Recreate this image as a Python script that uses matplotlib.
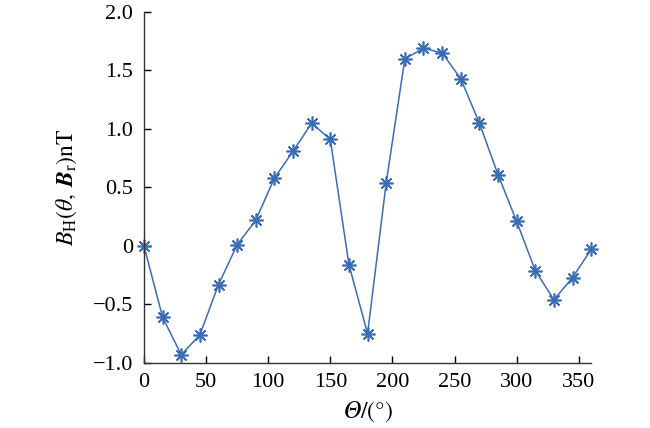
import numpy as np
import matplotlib.pyplot as plt

plt.rcParams['font.family'] = ['Liberation Serif', 'DejaVu Serif']
plt.rcParams['mathtext.fontset'] = 'stix'

# angle in degrees, field in nT
theta = [0, 15, 30, 45, 60, 75, 90, 105, 120, 135, 150, 165, 180,
         195, 210, 225, 240, 255, 270, 285, 300, 315, 330, 345, 360]
b_h = [0.0, -0.61, -0.93, -0.76, -0.33, 0.01, 0.22, 0.58, 0.81, 1.05, 0.91, -0.16, -0.75,
       0.54, 1.60, 1.69, 1.65, 1.43, 1.05, 0.61, 0.21, -0.21, -0.46, -0.27, -0.03]

x_ticks = [0, 50, 100, 150, 200, 250, 300, 350]
y_ticks = [-1.0, -0.5, 0, 0.5, 1.0, 1.5, 2.0]
y_labels = ["\u22121.0", "\u22120.5", "0", "0.5", "1.0", "1.5", "2.0"]

color = "#3a6db5"

fig = plt.figure(figsize=(6.5, 4.28), dpi=100)
ax = fig.add_axes([0.2215, 0.152, 0.688, 0.820])

ax.plot(theta, b_h, color=color, linewidth=1.1,
        marker=(8, 2, 0), markersize=10, markeredgewidth=1.2,
        markeredgecolor=color, clip_on=False)

ax.set_xlim(0, 360)
ax.set_ylim(-1.0, 2.0)
ax.set_xticks(x_ticks)
ax.set_yticks(y_ticks)
ax.set_yticklabels(y_labels)
ax.tick_params(direction='in', length=5, width=1, labelsize=16)
ax.tick_params(axis='x', pad=7)
ax.tick_params(axis='y', pad=8)

for s in ['top', 'right']:
    ax.spines[s].set_visible(False)
for s in ['left', 'bottom']:
    ax.spines[s].set_linewidth(1)
    ax.spines[s].set_color("#333333")

ax.set_xlabel("$\U0001D6E9/(\\degree)$", fontsize=17, labelpad=6)
ax.set_ylabel(r"$B_{\mathrm{H}}(\theta,\, \mathbfit{B}_{\mathrm{r}})\mathrm{nT}$", fontsize=17, labelpad=10)

plt.savefig("out.png", dpi=100)
plt.close()
